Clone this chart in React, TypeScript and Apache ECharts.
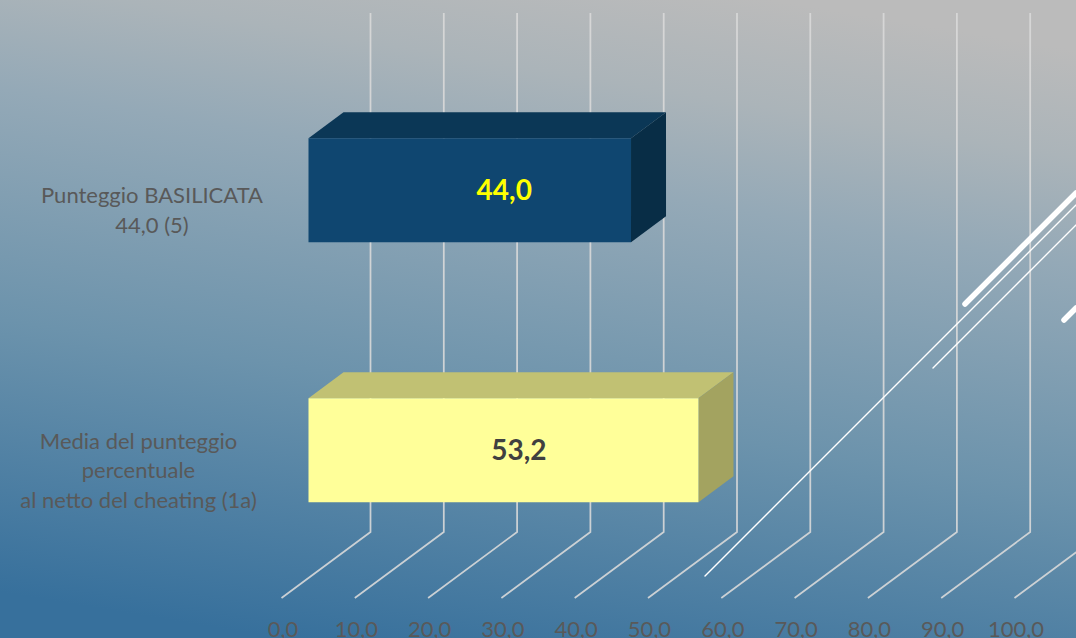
import React, { useEffect, useRef } from "react";
import * as echarts from "echarts";

const categories = [
  "Punteggio BASILICATA\n44,0 (5)",
  "Media del punteggio\npercentuale\nal netto del cheating (1a)",
];
const values = [44.0, 53.2];
const ticks = [0, 10, 20, 30, 40, 50, 60, 70, 80, 90, 100];
const barLabels = ["44,0", "53,2"];
const barFaces = [
  { front: "#0F4670", top: "#0B3756", side: "#082D46", label: "#FFFF00" },
  { front: "#FFFF99", top: "#C1C173", side: "#A3A360", label: "#404040" },
];
const labelShift = [34.5, 15.5];
const labelWidths = [216, 243];

const FONT = "Lato, 'Open Sans', sans-serif";
const TEXT = "#595959";

export default function App() {
  const ref = useRef<HTMLDivElement>(null);
  useEffect(() => {
    const chart = echarts.init(ref.current!, undefined, { renderer: "svg" });
    const richLine = (width: number) => ({
      width,
      align: "center",
      lineHeight: 29.5,
      fontSize: 22,
      fontFamily: FONT,
      color: TEXT,
    });
    chart.setOption({
      animation: false,
      graphic: [
        {
          type: "rect",
          z: -100,
          silent: true,
          shape: { x: 0, y: 0, width: 1076, height: 638 },
          style: {
            fill: new echarts.graphic.LinearGradient(
              650, -20, 535, 680,
              [
                { offset: 0, color: "#BBBBBB" },
                { offset: 0.15, color: "#ABB4B9" },
                { offset: 0.3, color: "#94A9B7" },
                { offset: 0.62, color: "#6C93AC" },
                { offset: 1, color: "#37709C" },
              ],
              true
            ),
          },
        },
        ...[
          { p: [705, 576, 1076, 205], w: 1.4 },
          { p: [933, 368, 1076, 225], w: 1.4 },
          { p: [965, 304, 1076, 193], w: 5.5 },
          { p: [1064, 320, 1076, 308], w: 5.5 },
        ].map((l) => ({
          type: "line",
          z: 100,
          silent: true,
          shape: { x1: l.p[0], y1: l.p[1], x2: l.p[2], y2: l.p[3] },
          style: { stroke: "#FFFFFF", lineWidth: l.w, lineCap: "round" },
        })),
      ],
      grid: {
        left: 281.5,
        top: 78,
        width: 733,
        height: 520,
        containLabel: false,
        outerBoundsMode: "none",
      },
      xAxis: {
        type: "value",
        min: 0,
        max: 100,
        interval: 10,
        axisLine: { show: false },
        axisTick: { show: false },
        splitLine: { show: false },
        axisLabel: {
          margin: 19.5,
          fontSize: 22,
          fontFamily: FONT,
          color: TEXT,
          hideOverlap: false,
          padding: [0, 0, 0, 3],
          formatter: (v: number) => v.toFixed(1).replace(".", ","),
        },
      },
      yAxis: {
        type: "category",
        inverse: true,
        data: categories,
        axisLine: { show: false },
        axisTick: { show: false },
        splitLine: { show: false },
        axisLabel: {
          margin: 21.5,
          align: "right",
          padding: [3, 0, 0, 0],
          formatter: (v: string) => {
            const key = categories.indexOf(v) === 0 ? "a" : "b";
            return v
              .split("\n")
              .map((line) => `{${key}|${line}}`)
              .join("\n");
          },
          rich: { a: richLine(labelWidths[0]), b: richLine(labelWidths[1]) },
        },
      },
      series: [
        {
          type: "custom",
          name: "griglia",
          z: 2,
          silent: true,
          encode: { x: 0 },
          data: ticks.map((t) => [t]),
          renderItem: (p: any, api: any) => {
            const base = api.coord([api.value(0), 1]);
            const x = base[0];
            const y = p.coordSys.y + p.coordSys.height;
            return {
              type: "polyline",
              shape: {
                points: [
                  [x, y],
                  [x + 89, y - 66],
                  [x + 89, y - 66 - p.coordSys.height + 1],
                ],
              },
              style: { fill: "none", stroke: "#D9D9D9", lineWidth: 1.75, opacity: 0.9 },
            };
          },
        },
        {
          type: "custom",
          name: "barre",
          z: 3,
          silent: true,
          encode: { x: 0, y: 1 },
          data: values.map((v, i) => [v, i]),
          renderItem: (p: any, api: any) => {
            const i = p.dataIndex;
            const start = api.coord([0, i]);
            const end = api.coord([api.value(0), i]);
            const h = api.size([0, 1])[1] * 0.4;
            const ox = 27;
            const oy = -17.7;
            const dx = 35;
            const dy = -26;
            const l = start[0] + ox;
            const r = end[0] + ox;
            const t = start[1] + oy - h / 2;
            const b = t + h;
            const face = barFaces[i];
            return {
              type: "group",
              children: [
                {
                  type: "polygon",
                  shape: { points: [[l, t], [l + dx, t + dy], [r + dx, t + dy], [r, t]] },
                  style: { fill: face.top },
                },
                {
                  type: "polygon",
                  shape: { points: [[r, t], [r + dx, t + dy], [r + dx, b + dy], [r, b]] },
                  style: { fill: face.side },
                },
                {
                  type: "rect",
                  shape: { x: l, y: t, width: r - l, height: b - t },
                  style: { fill: face.front },
                },
                {
                  type: "text",
                  x: (l + r) / 2 + labelShift[i],
                  y: (t + b) / 2 - 1.5,
                  style: {
                    text: barLabels[i],
                    fill: face.label,
                    fontSize: 28,
                    fontWeight: 700,
                    fontFamily: FONT,
                    align: "center",
                    verticalAlign: "middle",
                  },
                },
              ],
            };
          },
        },
      ],
    });
    return () => chart.dispose();
  }, []);
  return (
    <div
      ref={ref}
      style={{ position: "absolute", left: 0, top: 0, width: 1076, height: 638, overflow: "hidden" }}
    />
  );
}
